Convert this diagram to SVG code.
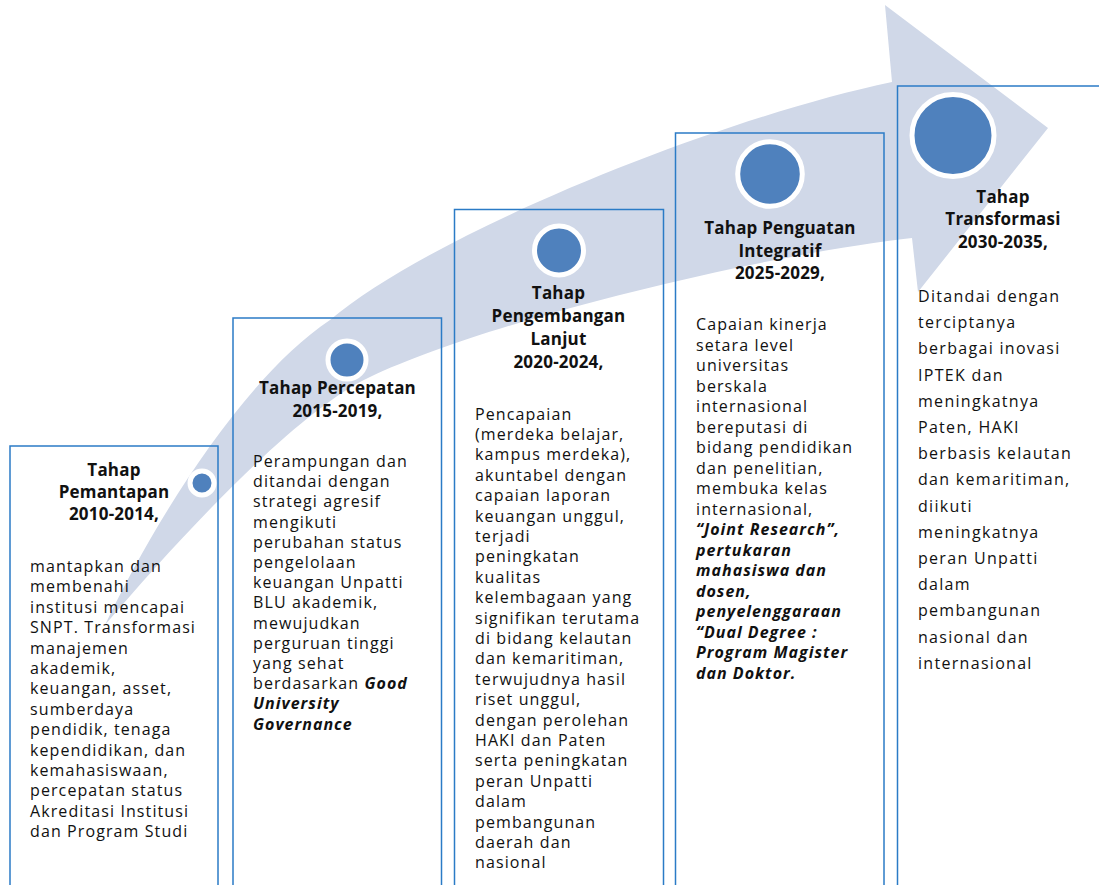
<svg xmlns="http://www.w3.org/2000/svg" width="1099" height="885" viewBox="0 0 1099 885">
<style>
.box{fill:none;stroke:#2B7BC6;stroke-width:1.5}
.dot{fill:#4F81BD;stroke:#FFFFFF;stroke-width:5}
.arrow{fill:#D0D8E8}
.title{font-family:"Open Sans","Liberation Sans",sans-serif;font-size:17px;font-weight:700;text-anchor:middle;letter-spacing:0.2px;fill:#111}
.body{font-family:"Open Sans","Liberation Sans",sans-serif;font-size:16px;letter-spacing:1.1px;fill:#111}
.b5{letter-spacing:1.3px}
.bi{font-weight:700;font-style:italic;letter-spacing:1.0px}
</style>
<rect width="1099" height="885" fill="#FFFFFF"/>
<g id="connectors">
<path class="arrow" d="M105,625 C150,530 240,380 330,320 C430,235 712,120 892,82 L885,5 L1048,128 L918,292 L912,238 C762,255 490,320 370,377 C300,409 184,532 105,625 Z"/>
</g>
<g id="node1">
<rect class="box" x="10" y="446" width="208" height="460"/>
<circle class="dot" cx="202" cy="483" r="12"/>
<text class="title"><tspan x="114" y="476">Tahap</tspan><tspan x="114" y="498">Pemantapan</tspan><tspan x="114" y="520">2010-2014,</tspan></text>
<text class="body">
<tspan x="30" y="572">mantapkan dan</tspan>
<tspan x="30" dy="20.4">membenahi</tspan>
<tspan x="30" dy="20.4">institusi mencapai</tspan>
<tspan x="30" dy="20.4">SNPT. Transformasi</tspan>
<tspan x="30" dy="20.4">manajemen</tspan>
<tspan x="30" dy="20.4">akademik,</tspan>
<tspan x="30" dy="20.4">keuangan, asset,</tspan>
<tspan x="30" dy="20.4">sumberdaya</tspan>
<tspan x="30" dy="20.4">pendidik, tenaga</tspan>
<tspan x="30" dy="20.4">kependidikan, dan</tspan>
<tspan x="30" dy="20.4">kemahasiswaan,</tspan>
<tspan x="30" dy="20.4">percepatan status</tspan>
<tspan x="30" dy="20.4">Akreditasi Institusi</tspan>
<tspan x="30" dy="20.4">dan Program Studi</tspan>
</text>
</g>
<g id="node2">
<rect class="box" x="233" y="318" width="208.5" height="590"/>
<circle class="dot" cx="347" cy="360" r="19"/>
<text class="title"><tspan x="337.5" y="394">Tahap Percepatan</tspan><tspan x="337.5" y="417">2015-2019,</tspan></text>
<text class="body">
<tspan x="253" y="467">Perampungan dan</tspan>
<tspan x="253" dy="20.2">ditandai dengan</tspan>
<tspan x="253" dy="20.2">strategi agresif</tspan>
<tspan x="253" dy="20.2">mengikuti</tspan>
<tspan x="253" dy="20.2">perubahan status</tspan>
<tspan x="253" dy="20.2">pengelolaan</tspan>
<tspan x="253" dy="20.2">keuangan Unpatti</tspan>
<tspan x="253" dy="20.2">BLU akademik,</tspan>
<tspan x="253" dy="20.2">mewujudkan</tspan>
<tspan x="253" dy="20.2">perguruan tinggi</tspan>
<tspan x="253" dy="20.2">yang sehat</tspan>
<tspan x="253" dy="20.2">berdasarkan <tspan class="bi">Good</tspan></tspan>
<tspan x="253" dy="20.2" class="bi">University</tspan>
<tspan x="253" dy="20.2" class="bi">Governance</tspan>
</text>
</g>
<g id="node3">
<rect class="box" x="454.5" y="209.5" width="209" height="700"/>
<circle class="dot" cx="559" cy="250.5" r="24.5"/>
<text class="title"><tspan x="558.5" y="299">Tahap</tspan><tspan x="558.5" y="322">Pengembangan</tspan><tspan x="558.5" y="345">Lanjut</tspan><tspan x="558.5" y="368">2020-2024,</tspan></text>
<text class="body">
<tspan x="475" y="419.6">Pencapaian</tspan>
<tspan x="475" dy="20.4">(merdeka belajar,</tspan>
<tspan x="475" dy="20.4">kampus merdeka),</tspan>
<tspan x="475" dy="20.4">akuntabel dengan</tspan>
<tspan x="475" dy="20.4">capaian laporan</tspan>
<tspan x="475" dy="20.4">keuangan unggul,</tspan>
<tspan x="475" dy="20.4">terjadi</tspan>
<tspan x="475" dy="20.4">peningkatan</tspan>
<tspan x="475" dy="20.4">kualitas</tspan>
<tspan x="475" dy="20.4">kelembagaan yang</tspan>
<tspan x="475" dy="20.4">signifikan terutama</tspan>
<tspan x="475" dy="20.4">di bidang kelautan</tspan>
<tspan x="475" dy="20.4">dan kemaritiman,</tspan>
<tspan x="475" dy="20.4">terwujudnya hasil</tspan>
<tspan x="475" dy="20.4">riset unggul,</tspan>
<tspan x="475" dy="20.4">dengan perolehan</tspan>
<tspan x="475" dy="20.4">HAKI dan Paten</tspan>
<tspan x="475" dy="20.4">serta peningkatan</tspan>
<tspan x="475" dy="20.4">peran Unpatti</tspan>
<tspan x="475" dy="20.4">dalam</tspan>
<tspan x="475" dy="20.4">pembangunan</tspan>
<tspan x="475" dy="20.4">daerah dan</tspan>
<tspan x="475" dy="20.4">nasional</tspan>
</text>
</g>
<g id="node4">
<rect class="box" x="675.5" y="133" width="208.5" height="780"/>
<circle class="dot" cx="770" cy="174" r="32.3"/>
<text class="title"><tspan x="780" y="234">Tahap Penguatan</tspan><tspan x="780" y="257">Integratif</tspan><tspan x="780" y="279">2025-2029,</tspan></text>
<text class="body">
<tspan x="696" y="330">Capaian kinerja</tspan>
<tspan x="696" dy="20.5">setara level</tspan>
<tspan x="696" dy="20.5">universitas</tspan>
<tspan x="696" dy="20.5">berskala</tspan>
<tspan x="696" dy="20.5">internasional</tspan>
<tspan x="696" dy="20.5">bereputasi di</tspan>
<tspan x="696" dy="20.5">bidang pendidikan</tspan>
<tspan x="696" dy="20.5">dan penelitian,</tspan>
<tspan x="696" dy="20.5">membuka kelas</tspan>
<tspan x="696" dy="20.5">internasional,</tspan>
<tspan x="696" dy="20.5" class="bi">“Joint Research”,</tspan>
<tspan x="696" dy="20.5" class="bi">pertukaran</tspan>
<tspan x="696" dy="20.5" class="bi">mahasiswa dan</tspan>
<tspan x="696" dy="20.5" class="bi">dosen,</tspan>
<tspan x="696" dy="20.5" class="bi">penyelenggaraan</tspan>
<tspan x="696" dy="20.5" class="bi">“Dual Degree :</tspan>
<tspan x="696" dy="20.5" class="bi">Program Magister</tspan>
<tspan x="696" dy="20.5" class="bi">dan Doktor.</tspan>
</text>
</g>
<g id="node5">
<rect class="box" x="897.5" y="86" width="230" height="830"/>
<circle class="dot" cx="953" cy="135.5" r="41"/>
<text class="title"><tspan x="1003" y="203">Tahap</tspan><tspan x="1003" y="225">Transformasi</tspan><tspan x="1003" y="248">2030-2035,</tspan></text>
<text class="body b5">
<tspan x="918" y="302">Ditandai dengan</tspan>
<tspan x="918" dy="26.2">terciptanya</tspan>
<tspan x="918" dy="26.2">berbagai inovasi</tspan>
<tspan x="918" dy="26.2">IPTEK dan</tspan>
<tspan x="918" dy="26.2">meningkatnya</tspan>
<tspan x="918" dy="26.2">Paten, HAKI</tspan>
<tspan x="918" dy="26.2">berbasis kelautan</tspan>
<tspan x="918" dy="26.2">dan kemaritiman,</tspan>
<tspan x="918" dy="26.2">diikuti</tspan>
<tspan x="918" dy="26.2">meningkatnya</tspan>
<tspan x="918" dy="26.2">peran Unpatti</tspan>
<tspan x="918" dy="26.2">dalam</tspan>
<tspan x="918" dy="26.2">pembangunan</tspan>
<tspan x="918" dy="26.2">nasional dan</tspan>
<tspan x="918" dy="26.2">internasional</tspan>
</text>
</g>
</svg>
